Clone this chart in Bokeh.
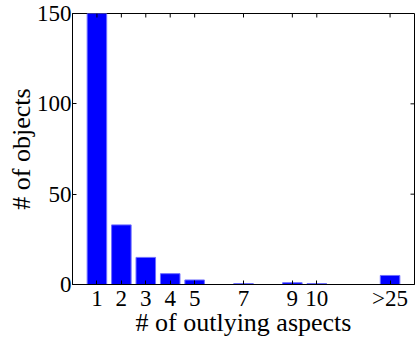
from bokeh.plotting import figure
from bokeh.models import FixedTicker, Range1d, ColumnDataSource
from bokeh.embed import file_html
from bokeh.resources import INLINE

# data
positions = [1, 2, 3, 4, 5, 6, 7, 8, 9, 10, 11, 12, 13]
counts = [150, 33, 15, 6, 2.5, 0, 0.5, 0, 1, 0.5, 0, 0, 5]
tick_positions = [1, 2, 3, 4, 5, 7, 9, 10, 13]
tick_labels = ["1", "2", "3", "4", "5", "7", "9", "10", ">25"]
y_ticks = [0, 50, 100, 150]

FONT = "Liberation Serif"
X0, X1, Y0, Y1 = 0, 14, 0, 150

p = figure(width=417, height=339, output_backend="svg", toolbar_location=None,
           x_range=Range1d(X0, X1), y_range=Range1d(Y0, Y1),
           min_border_left=72, min_border_right=3, min_border_top=13, min_border_bottom=54)
p.xgrid.visible = False
p.ygrid.visible = False
p.outline_line_color = "black"
p.background_fill_color = "white"
p.border_fill_color = "white"

src = ColumnDataSource(dict(x=positions, top=counts))
p.vbar(x="x", top="top", bottom=0, width=0.8, source=src,
       fill_color="#0000ff", line_color="#6f6fff", line_width=1)

# top and right inward tick marks (matlab-style box)
tick_len_y = 4 * (Y1 - Y0) / 272
tick_len_x = 4 * (X1 - X0) / 342
p.segment(x0=tick_positions, x1=tick_positions, y0=[Y1] * len(tick_positions),
          y1=[Y1 - tick_len_y] * len(tick_positions), line_color="black", line_width=1)
p.segment(x0=[X1] * len(y_ticks), x1=[X1 - tick_len_x] * len(y_ticks), y0=y_ticks,
          y1=y_ticks, line_color="black", line_width=1)

def style(ax):
    ax.major_tick_in = 4
    ax.major_tick_out = 0
    ax.minor_tick_in = 0
    ax.minor_tick_out = 0
    ax.axis_line_color = "black"
    ax.major_tick_line_color = "black"
    ax.major_label_text_font = FONT
    ax.major_label_text_font_size = "23px"
    ax.major_label_text_color = "black"
    ax.axis_label_text_font = FONT
    ax.axis_label_text_font_size = "26px"
    ax.axis_label_text_font_style = "normal"
    ax.axis_label_text_color = "black"

xa = p.xaxis[0]
xa.ticker = FixedTicker(ticks=tick_positions)
xa.major_label_overrides = {t: l for t, l in zip(tick_positions, tick_labels)}
xa.axis_label = "# of outlying aspects"
style(xa)
xa.major_label_standoff = 1
xa.axis_label_standoff = -6

ya = p.yaxis[0]
ya.ticker = FixedTicker(ticks=y_ticks)
ya.axis_label = "# of objects"
style(ya)
ya.major_label_standoff = 1
ya.axis_label_standoff = -2

open("out.html", "w").write(file_html(p, INLINE))
